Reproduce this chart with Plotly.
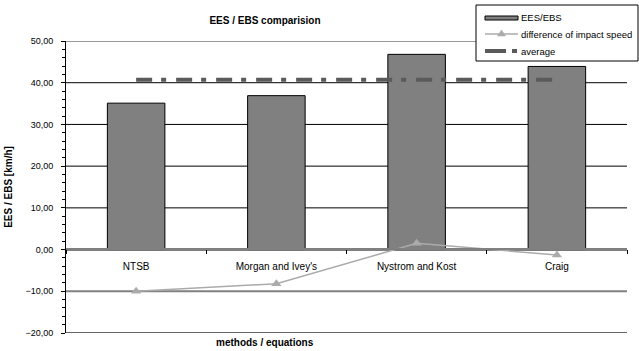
import plotly.graph_objects as go

# Reconstruction speeds per method (km/h)
methods = ["NTSB", "Morgan and Ivey's", "Nystrom and Kost", "Craig"]
ees_ebs = [35.1, 36.9, 46.8, 43.9]
impact_diff = [-10.0, -8.2, 1.5, -1.3]
average = [40.7, 40.7, 40.7, 40.7]
series_names = ["EES/EBS", "difference of impact speed", "average"]

# horizontal grid levels and their line colours
grid_levels = [-20, -10, 10, 20, 30, 40, 50]
grid_colors = ["#333333", "#808080", "#000000", "#000000", "#000000", "#000000", "#333333"]
grid_widths = [1.5, 2, 1, 1, 1, 1, 1]

FONT = "Liberation Sans, Arial, sans-serif"
BAR_COLOR = "#808080"
DIFF_COLOR = "#ababab"
AVG_COLOR = "#5a5a5a"

# plot area in pixels
L, R, T, B = 66, 627, 41, 333


def px(x):
    return (x - L) / (R - L)


def py(y):
    return (B - y) / (B - T)


fig = go.Figure()

fig.add_trace(go.Bar(
    x=methods, y=ees_ebs, name=series_names[0],
    marker=dict(color=BAR_COLOR, line=dict(color="#000000", width=1)),
))
fig.add_trace(go.Scatter(
    x=methods, y=impact_diff, name=series_names[1],
    mode="lines+markers",
    line=dict(color=DIFF_COLOR, width=1.5),
    marker=dict(symbol="triangle-up", size=9, color=DIFF_COLOR),
))
fig.add_trace(go.Scatter(
    x=methods, y=average, name=series_names[2],
    mode="lines",
    line=dict(color=AVG_COLOR, width=4, dash="16px,9px,5px,10px"),
))

for lvl, col, w in zip(grid_levels, grid_colors, grid_widths):
    fig.add_hline(y=lvl, line=dict(color=col, width=w), layer="below")

# legend box drawn by hand (compact Excel-style keys)
shapes = [
    dict(type="rect", xref="paper", yref="paper", x0=px(476), x1=px(638), y0=py(61), y1=py(5),
         fillcolor="white", line=dict(color="#000000", width=1), layer="above"),
    dict(type="rect", xref="paper", yref="paper", x0=px(485), x1=px(518), y0=py(20), y1=py(16),
         fillcolor=BAR_COLOR, line=dict(color="#000000", width=1), layer="above"),
    dict(type="line", xref="paper", yref="paper", x0=px(485), x1=px(518), y0=py(34), y1=py(34),
         line=dict(color=DIFF_COLOR, width=1.5), layer="above"),
    dict(type="path", xref="paper", yref="paper",
         path=f"M {px(497.5)},{py(36)} L {px(505.5)},{py(36)} L {px(501.5)},{py(30)} Z",
         fillcolor=DIFF_COLOR, line=dict(color=DIFF_COLOR, width=0.5), layer="above"),
    dict(type="line", xref="paper", yref="paper", x0=px(485), x1=px(506), y0=py(51), y1=py(51),
         line=dict(color=AVG_COLOR, width=4), layer="above"),
    dict(type="line", xref="paper", yref="paper", x0=px(512), x1=px(517), y0=py(51), y1=py(51),
         line=dict(color=AVG_COLOR, width=4), layer="above"),
]
for s in shapes:
    fig.add_shape(**s)

legend_rows = [17.5, 34, 51]
annotations = [
    dict(text=name, xref="paper", yref="paper", x=px(519), y=py(row),
         xanchor="left", yanchor="middle", showarrow=False,
         font=dict(size=9.5, family=FONT, color="#000000"))
    for name, row in zip(series_names, legend_rows)
]
annotations.append(dict(
    text="<b>methods / equations</b>",
    xref="paper", yref="paper", x=px(265), y=py(342),
    xanchor="center", yanchor="middle", showarrow=False,
    font=dict(size=10, family=FONT),
))

fig.update_layout(
    width=639, height=351,
    margin=dict(l=L, r=639 - R, t=T, b=351 - B, autoexpand=False),
    paper_bgcolor="white", plot_bgcolor="white",
    separators=",.",
    font=dict(family=FONT, size=10, color="#000000"),
    bargap=0.59,
    showlegend=False,
    title=dict(
        text="<b>EES / EBS comparision</b>",
        x=265 / 639, xanchor="center", y=1 - 20 / 351, yanchor="middle",
        font=dict(size=10, family=FONT),
    ),
    xaxis=dict(
        anchor="free", position=py(249),
        showline=True, linecolor="#808080", linewidth=2,
        ticks="outside", ticklen=4, tickcolor="#000000",
        tickson="boundaries", showgrid=False,
        tickfont=dict(size=10, family=FONT),
        ticklabelstandoff=8,
    ),
    yaxis=dict(
        range=[-20, 50], dtick=10, tickformat=".2f",
        showline=True, linecolor="#000000", linewidth=1,
        ticks="outside", ticklen=4, tickcolor="#000000",
        showgrid=False,
        zeroline=True, zerolinecolor="#808080", zerolinewidth=2,
        minor=dict(dtick=2, ticks="outside", ticklen=3, tickcolor="#000000", showgrid=False),
        tickfont=dict(size=9, family=FONT),
        ticklabelstandoff=6,
        title=dict(text="<b>EES / EBS [km/h]</b>", font=dict(size=10, family=FONT), standoff=10),
    ),
    annotations=annotations,
)

fig.write_html("out.html")
